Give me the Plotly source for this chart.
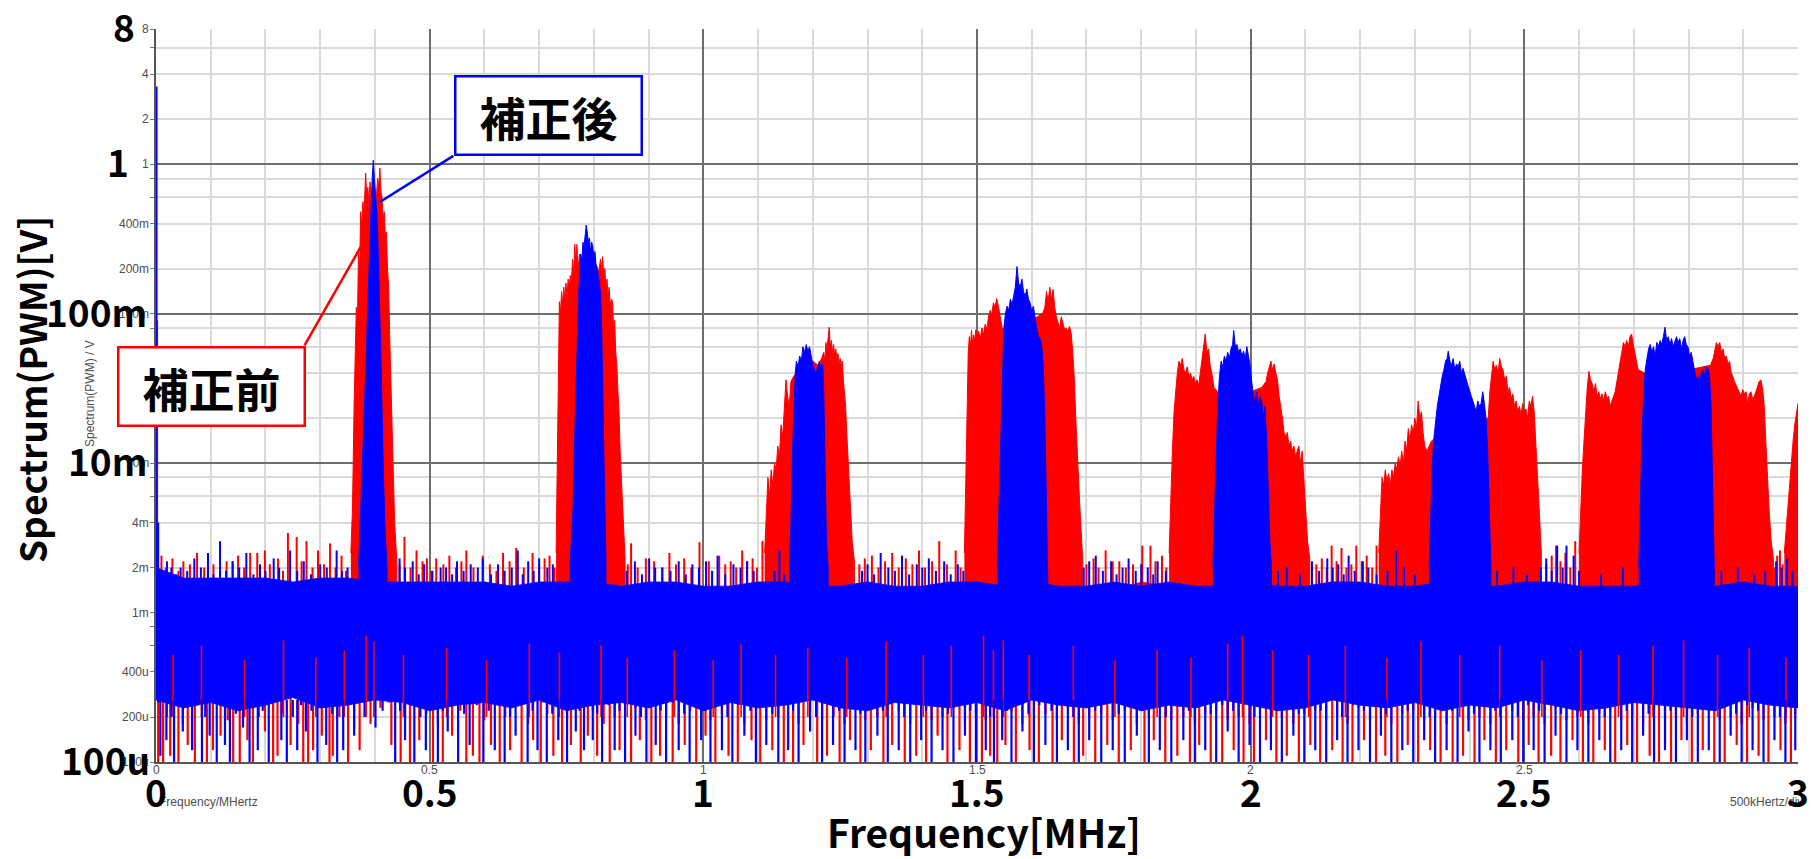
import math
import plotly.graph_objects as go

# ---------------------------------------------------------------- data
# Noise floor, sampled every 50 kHz (frequency in MHz)
FLOOR_F = [0.00, 0.05, 0.10, 0.15, 0.20, 0.25, 0.30, 0.35, 0.40, 0.45,
           0.50, 0.55, 0.60, 0.65, 0.70, 0.75, 0.80, 0.85, 0.90, 0.95,
           1.00, 1.05, 1.10, 1.15, 1.20, 1.25, 1.30, 1.35, 1.40, 1.45,
           1.50, 1.55, 1.60, 1.65, 1.70, 1.75, 1.80, 1.85, 1.90, 1.95,
           2.00, 2.05, 2.10, 2.15, 2.20, 2.25, 2.30, 2.35, 2.40, 2.45,
           2.50, 2.55, 2.60, 2.65, 2.70, 2.75, 2.80, 2.85, 2.90, 2.95, 3.00]

# upper edge of the dense floor band (mV)
RED_FLOOR_TOP = [1.8, 1.6, 1.5, 1.6, 1.7, 1.5, 1.6, 1.7, 1.5, 1.5,
                 1.6, 1.5, 1.6, 1.4, 1.5, 1.6, 1.5, 1.4, 1.6, 1.5,
                 1.4, 1.5, 1.6, 1.5, 1.4, 1.5, 1.6, 1.4, 1.5, 1.6,
                 1.5, 1.4, 1.5, 1.6, 1.5, 1.4, 1.6, 1.5, 1.4, 1.5,
                 1.6, 1.4, 1.5, 1.6, 1.5, 1.4, 1.5, 1.6, 1.4, 1.5,
                 1.6, 1.5, 1.4, 1.6, 1.5, 1.4, 1.5, 1.6, 1.5, 1.4, 1.5]
BLUE_FLOOR_TOP = [2.0, 1.7, 1.7, 1.7, 1.7, 1.6, 1.7, 1.7, 1.6, 1.6,
                  1.6, 1.6, 1.6, 1.5, 1.6, 1.6, 1.6, 1.5, 1.6, 1.6,
                  1.5, 1.5, 1.6, 1.6, 1.5, 1.5, 1.6, 1.5, 1.5, 1.6,
                  1.6, 1.5, 1.6, 1.5, 1.5, 1.6, 1.5, 1.6, 1.5, 1.5,
                  1.6, 1.5, 1.5, 1.6, 1.6, 1.5, 1.5, 1.6, 1.5, 1.5,
                  1.6, 1.6, 1.5, 1.5, 1.5, 1.6, 1.5, 1.5, 1.6, 1.5, 1.5]

# lower edge of the dense floor band (uV)
RED_FLOOR_BOT = [280, 300, 270, 290, 300, 270, 290, 280, 300, 290,
                 270, 280, 300, 290, 270, 290, 280, 270, 300, 290,
                 280, 270, 290, 300, 280, 290, 270, 280, 300, 290,
                 270, 290, 280, 300, 290, 270, 280, 300, 290, 280,
                 270, 300, 290, 280, 270, 290, 280, 300, 270, 290,
                 280, 300, 290, 270, 290, 280, 300, 290, 270, 280, 290]
BLUE_FLOOR_BOT = [260, 230, 250, 220, 240, 270, 230, 240, 260, 250,
                  220, 240, 250, 230, 260, 220, 240, 250, 230, 260,
                  220, 250, 230, 240, 260, 230, 220, 250, 240, 230,
                  250, 220, 260, 240, 230, 250, 220, 240, 230, 260,
                  240, 220, 230, 260, 240, 230, 250, 220, 240, 230,
                  260, 240, 220, 230, 250, 240, 230, 220, 260, 240, 230]

# Harmonic sidebands, (frequency MHz, peak mV) -- before correction (red)
RED_H1 = [(0.356, 2.5), (0.359, 5), (0.362, 25), (0.364, 60), (0.366, 110), (0.368, 90),
          (0.370, 260), (0.372, 200), (0.374, 480), (0.376, 380), (0.378, 560), (0.380, 450),
          (0.383, 870), (0.385, 600), (0.387, 700), (0.389, 550), (0.391, 760), (0.393, 600),
          (0.395, 620), (0.398, 500), (0.400, 650), (0.402, 560), (0.405, 800), (0.407, 700),
          (0.409, 940), (0.411, 650), (0.413, 600), (0.415, 420), (0.417, 480), (0.419, 330),
          (0.421, 350), (0.423, 200), (0.425, 150), (0.427, 70), (0.429, 40), (0.431, 18),
          (0.433, 10), (0.436, 4), (0.440, 2.2)]
RED_H2 = [(0.731, 2.5), (0.733, 8), (0.735, 40), (0.737, 120), (0.739, 100), (0.741, 140),
          (0.743, 115), (0.745, 150), (0.747, 125), (0.749, 160), (0.751, 130), (0.753, 170),
          (0.755, 150), (0.757, 180), (0.759, 160), (0.761, 230), (0.763, 180), (0.765, 290),
          (0.767, 220), (0.769, 290), (0.771, 200), (0.774, 250), (0.778, 220), (0.782, 240),
          (0.786, 200), (0.790, 220), (0.795, 200), (0.800, 220), (0.805, 210), (0.809, 190),
          (0.812, 230), (0.814, 200), (0.816, 240), (0.818, 180), (0.820, 200), (0.822, 150),
          (0.824, 170), (0.826, 130), (0.828, 150), (0.830, 110), (0.832, 125), (0.834, 120),
          (0.836, 80), (0.838, 90), (0.840, 55), (0.842, 45), (0.844, 30), (0.846, 22),
          (0.848, 12), (0.850, 8), (0.853, 4), (0.857, 2.3)]
RED_H3 = [(1.112, 2.5), (1.115, 5), (1.118, 8), (1.121, 6), (1.124, 9), (1.127, 7),
          (1.130, 10), (1.133, 9), (1.136, 13), (1.139, 11), (1.142, 18), (1.145, 15),
          (1.148, 25), (1.151, 36), (1.154, 28), (1.157, 24), (1.160, 35), (1.165, 38),
          (1.170, 40), (1.180, 45), (1.190, 50), (1.200, 48), (1.210, 45), (1.216, 50),
          (1.220, 55), (1.222, 48), (1.224, 64), (1.226, 58), (1.228, 70), (1.230, 81),
          (1.232, 60), (1.234, 66), (1.236, 55), (1.238, 62), (1.240, 52), (1.242, 58),
          (1.244, 50), (1.246, 54), (1.248, 46), (1.250, 50), (1.252, 44), (1.254, 48),
          (1.256, 35), (1.258, 30), (1.260, 24), (1.262, 16), (1.264, 11), (1.266, 8),
          (1.269, 5), (1.272, 3), (1.276, 2.2)]
RED_H4 = [(1.477, 2.5), (1.480, 8), (1.482, 25), (1.484, 55), (1.486, 70), (1.488, 60),
          (1.490, 77), (1.492, 62), (1.494, 72), (1.496, 65), (1.498, 78), (1.500, 70),
          (1.503, 76), (1.506, 68), (1.509, 80), (1.512, 72), (1.515, 85), (1.518, 78),
          (1.521, 95), (1.524, 105), (1.527, 98), (1.530, 118), (1.533, 110), (1.536, 126),
          (1.539, 112), (1.542, 95), (1.546, 80), (1.550, 75), (1.560, 80), (1.580, 85),
          (1.600, 90), (1.620, 100), (1.624, 110), (1.627, 140), (1.630, 120), (1.633, 150),
          (1.636, 125), (1.639, 145), (1.642, 110), (1.645, 95), (1.648, 88), (1.651, 80),
          (1.654, 95), (1.657, 85), (1.660, 78), (1.663, 80), (1.666, 76), (1.669, 82),
          (1.672, 74), (1.675, 55), (1.678, 35), (1.681, 18), (1.684, 10), (1.688, 5),
          (1.693, 2.3)]
RED_H5 = [(1.851, 2.5), (1.854, 6), (1.857, 12), (1.860, 22), (1.863, 30), (1.866, 40),
          (1.869, 48), (1.872, 45), (1.875, 50), (1.878, 42), (1.881, 40), (1.884, 44),
          (1.887, 38), (1.890, 40), (1.893, 36), (1.896, 38), (1.899, 34), (1.902, 36),
          (1.905, 33), (1.908, 40), (1.911, 48), (1.914, 60), (1.917, 73), (1.920, 55),
          (1.923, 58), (1.926, 45), (1.929, 40), (1.933, 32), (1.940, 30), (1.960, 30),
          (1.980, 30), (2.000, 30), (2.020, 32), (2.028, 35), (2.031, 40), (2.034, 44),
          (2.037, 48), (2.040, 42), (2.043, 46), (2.046, 40), (2.049, 36), (2.052, 28),
          (2.055, 24), (2.058, 20), (2.061, 16), (2.064, 15), (2.067, 16), (2.070, 13),
          (2.073, 14), (2.076, 12), (2.079, 13), (2.082, 11), (2.085, 12), (2.088, 13),
          (2.091, 10), (2.094, 12), (2.097, 8), (2.100, 5), (2.104, 3), (2.108, 2.3)]
RED_H6 = [(2.234, 2.5), (2.237, 5), (2.240, 8), (2.243, 7), (2.246, 9), (2.249, 7.5),
          (2.252, 8.5), (2.255, 7), (2.258, 9), (2.261, 8), (2.264, 10), (2.267, 9),
          (2.270, 11), (2.273, 9.5), (2.276, 12), (2.279, 10), (2.282, 14), (2.285, 12),
          (2.288, 17), (2.291, 14), (2.294, 18), (2.297, 16), (2.300, 20), (2.303, 17),
          (2.306, 26), (2.309, 20), (2.312, 22), (2.315, 16), (2.318, 13), (2.322, 12),
          (2.330, 14), (2.350, 16), (2.380, 18), (2.410, 18), (2.434, 20), (2.437, 30),
          (2.440, 40), (2.443, 48), (2.446, 42), (2.449, 45), (2.452, 40), (2.455, 50),
          (2.458, 44), (2.461, 42), (2.464, 36), (2.467, 38), (2.470, 30), (2.473, 32),
          (2.476, 27), (2.479, 29), (2.482, 24), (2.485, 26), (2.488, 22), (2.491, 24),
          (2.494, 21), (2.497, 25), (2.500, 22), (2.503, 23), (2.506, 20), (2.509, 26),
          (2.512, 24), (2.515, 28), (2.518, 22), (2.521, 14), (2.524, 8), (2.527, 5),
          (2.531, 2.5)]
RED_H7 = [(2.600, 2.5), (2.603, 5), (2.606, 9), (2.609, 14), (2.612, 22), (2.615, 32),
          (2.618, 41), (2.621, 36), (2.624, 34), (2.627, 30), (2.630, 34), (2.633, 28),
          (2.636, 30), (2.639, 27), (2.642, 29), (2.645, 26), (2.648, 30), (2.651, 27),
          (2.654, 28), (2.657, 24), (2.660, 26), (2.663, 28), (2.666, 30), (2.669, 35),
          (2.672, 40), (2.675, 48), (2.678, 55), (2.681, 64), (2.684, 60), (2.687, 66),
          (2.690, 60), (2.693, 70), (2.696, 73), (2.699, 62), (2.702, 55), (2.705, 48),
          (2.708, 42), (2.720, 40), (2.760, 42), (2.800, 42), (2.840, 45), (2.845, 50),
          (2.848, 58), (2.851, 64), (2.854, 60), (2.857, 64), (2.860, 55), (2.863, 58),
          (2.866, 50), (2.869, 52), (2.872, 46), (2.875, 48), (2.878, 40), (2.881, 38),
          (2.884, 35), (2.887, 33), (2.890, 32), (2.893, 30), (2.896, 28), (2.899, 31),
          (2.902, 29), (2.905, 30), (2.908, 25), (2.911, 29), (2.914, 30), (2.917, 27),
          (2.920, 28), (2.923, 30), (2.926, 32), (2.929, 35), (2.932, 36), (2.935, 32),
          (2.938, 25), (2.941, 14), (2.944, 10), (2.947, 5), (2.951, 3), (2.955, 2.3)]
RED_H8 = [(2.975, 2.5), (2.979, 4), (2.983, 6), (2.987, 9), (2.991, 14), (2.994, 18),
          (2.997, 22), (3.000, 25)]

# Harmonic sidebands after correction (blue)
BLUE_H1 = [(0.370, 2), (0.373, 4), (0.376, 6), (0.378, 10), (0.381, 25), (0.384, 50),
           (0.386, 90), (0.388, 160), (0.390, 300), (0.392, 450), (0.394, 650), (0.395, 800),
           (0.397, 1060), (0.399, 800), (0.401, 650), (0.403, 500), (0.405, 350), (0.407, 200),
           (0.409, 100), (0.412, 35), (0.415, 10), (0.418, 4), (0.422, 2)]
BLUE_H2 = [(0.756, 2), (0.759, 3), (0.762, 5), (0.765, 15), (0.768, 45), (0.770, 80),
           (0.772, 130), (0.774, 180), (0.776, 250), (0.778, 220), (0.780, 300), (0.782, 280),
           (0.784, 340), (0.786, 390), (0.788, 350), (0.790, 300), (0.792, 320), (0.794, 260),
           (0.796, 300), (0.798, 280), (0.800, 240), (0.802, 260), (0.804, 210), (0.806, 200),
           (0.808, 180), (0.810, 160), (0.812, 140), (0.814, 90), (0.816, 25), (0.819, 8),
           (0.822, 2.3)]
BLUE_H3 = [(1.157, 2), (1.160, 4), (1.163, 12), (1.166, 28), (1.168, 40), (1.170, 48),
           (1.173, 44), (1.176, 52), (1.179, 48), (1.182, 60), (1.185, 55), (1.188, 62),
           (1.191, 56), (1.194, 60), (1.197, 50), (1.200, 45), (1.203, 42), (1.206, 40),
           (1.209, 44), (1.212, 48), (1.215, 42), (1.218, 46), (1.220, 30), (1.222, 10),
           (1.225, 3), (1.228, 2)]
BLUE_H4 = [(1.537, 2), (1.540, 5), (1.543, 15), (1.546, 40), (1.549, 80), (1.552, 100),
           (1.555, 112), (1.558, 105), (1.561, 125), (1.564, 115), (1.567, 135), (1.570, 150),
           (1.573, 206), (1.576, 160), (1.579, 150), (1.582, 170), (1.585, 140), (1.588, 130),
           (1.591, 146), (1.594, 125), (1.597, 118), (1.600, 104), (1.603, 112), (1.606, 92),
           (1.609, 80), (1.612, 70), (1.615, 68), (1.618, 62), (1.621, 45), (1.624, 20),
           (1.627, 6), (1.630, 2)]
BLUE_H5 = [(1.931, 2), (1.934, 5), (1.937, 12), (1.940, 25), (1.943, 38), (1.946, 48),
           (1.949, 44), (1.952, 52), (1.955, 48), (1.958, 55), (1.961, 50), (1.964, 58),
           (1.967, 62), (1.969, 77), (1.972, 60), (1.975, 62), (1.978, 55), (1.981, 58),
           (1.984, 52), (1.987, 56), (1.990, 50), (1.993, 60), (1.996, 52), (1.999, 45),
           (2.002, 35), (2.005, 28), (2.008, 26), (2.011, 30), (2.014, 24), (2.017, 28),
           (2.020, 26), (2.023, 20), (2.026, 24), (2.029, 15), (2.032, 7), (2.035, 3),
           (2.038, 2)]
BLUE_H6 = [(2.326, 2), (2.329, 5), (2.332, 10), (2.335, 15), (2.338, 20), (2.341, 24),
           (2.344, 28), (2.347, 34), (2.350, 38), (2.353, 42), (2.356, 48), (2.359, 50),
           (2.361, 56), (2.364, 48), (2.367, 45), (2.370, 50), (2.373, 42), (2.376, 46),
           (2.379, 44), (2.382, 48), (2.385, 40), (2.388, 43), (2.391, 40), (2.394, 36),
           (2.397, 33), (2.400, 30), (2.403, 28), (2.406, 26), (2.409, 24), (2.412, 22),
           (2.415, 26), (2.418, 24), (2.421, 25), (2.424, 30), (2.427, 25), (2.430, 20),
           (2.433, 12), (2.436, 5), (2.439, 2)]
BLUE_H7 = [(2.709, 2), (2.712, 6), (2.715, 15), (2.718, 28), (2.721, 42), (2.724, 50),
           (2.727, 58), (2.730, 62), (2.733, 55), (2.736, 60), (2.739, 52), (2.742, 64),
           (2.745, 60), (2.748, 66), (2.751, 62), (2.754, 70), (2.757, 81), (2.760, 66),
           (2.763, 70), (2.766, 62), (2.769, 68), (2.772, 60), (2.775, 66), (2.778, 70),
           (2.781, 64), (2.784, 68), (2.787, 58), (2.790, 66), (2.793, 70), (2.796, 62),
           (2.799, 60), (2.802, 52), (2.805, 55), (2.808, 48), (2.811, 40), (2.814, 36),
           (2.817, 38), (2.820, 35), (2.823, 40), (2.826, 42), (2.829, 38), (2.832, 44),
           (2.835, 43), (2.838, 40), (2.841, 25), (2.844, 8), (2.847, 2)]

# Isolated spikes above the floor band, (frequency MHz, mV)
RED_UP = [(0.002, 90), (0.010, 2.4), (0.030, 2.3), (0.050, 2.2), (0.075, 2.5), (0.105, 2.1),
          (0.129, 2.2), (0.150, 2.4), (0.172, 2.5), (0.185, 2.5), (0.199, 2.6), (0.223, 2.3),
          (0.241, 3.4), (0.257, 3.2), (0.275, 3.0), (0.296, 2.6), (0.318, 2.9), (0.339, 2.4),
          (0.454, 3.2), (0.476, 2.6), (0.495, 2.3), (0.512, 2.3), (0.536, 2.4), (0.567, 2.6),
          (0.597, 2.4), (0.634, 2.5), (0.658, 2.7), (0.688, 2.5), (0.719, 2.4), (0.868, 2.9),
          (0.895, 2.3), (0.938, 2.5), (0.965, 2.3), (0.993, 2.95), (1.029, 2.4), (1.050, 2.2),
          (1.071, 2.6), (1.090, 2.3), (1.108, 3.0), (1.295, 2.3), (1.308, 2.4), (1.345, 2.5),
          (1.370, 2.3), (1.394, 2.6), (1.431, 3.0), (1.461, 2.6), (1.713, 2.3), (1.735, 2.6),
          (1.760, 2.2), (1.802, 2.8), (1.817, 2.8), (1.838, 2.4), (2.130, 2.3), (2.148, 2.8),
          (2.166, 2.7), (2.193, 2.8), (2.212, 2.4), (2.230, 2.8), (2.550, 2.4), (2.558, 2.8),
          (2.575, 2.5), (2.593, 3.0), (2.962, 2.4), (2.967, 2.6),
          (0.018, 2.0), (0.041, 1.9), (0.062, 2.1), (0.088, 2.0), (0.117, 1.9), (0.140, 2.2),
          (0.161, 2.0), (0.208, 2.1), (0.232, 1.9), (0.266, 2.2), (0.286, 2.0), (0.307, 2.1),
          (0.328, 2.0), (0.347, 1.9), (0.445, 2.1), (0.465, 2.0), (0.487, 2.2), (0.503, 1.9),
          (0.525, 2.1), (0.548, 2.0), (0.558, 2.2), (0.580, 2.0), (0.610, 2.1), (0.622, 1.9),
          (0.646, 2.2), (0.672, 2.0), (0.700, 2.1), (0.710, 2.3), (0.728, 2.0), (0.862, 2.1),
          (0.880, 2.0), (0.910, 2.2), (0.925, 2.0), (0.950, 2.1), (0.978, 2.0), (1.010, 2.2),
          (1.040, 2.1), (1.060, 2.0), (1.080, 2.2), (1.098, 2.0), (1.285, 2.1), (1.320, 2.0),
          (1.332, 2.2), (1.357, 2.0), (1.382, 2.1), (1.405, 2.0), (1.418, 2.2), (1.445, 2.1),
          (1.470, 2.0), (1.700, 2.1), (1.722, 2.0), (1.748, 2.2), (1.772, 2.0), (1.785, 2.1),
          (1.826, 2.2), (1.846, 2.0), (2.120, 2.1), (2.139, 2.0), (2.157, 2.2), (2.175, 2.0),
          (2.184, 2.1), (2.203, 2.2), (2.222, 2.0), (2.540, 2.1), (2.566, 2.2), (2.584, 2.0),
          (2.958, 2.0), (2.972, 2.1)]
BLUE_UP = [(0.001, 3300), (0.004, 4.0), (0.020, 2.2), (0.045, 2.0), (0.070, 2.3), (0.095, 2.5),
           (0.117, 3.0), (0.140, 2.2), (0.165, 2.5), (0.190, 2.1), (0.215, 2.3), (0.245, 2.6),
           (0.270, 2.2), (0.300, 2.1), (0.330, 2.6), (0.350, 2.0), (0.445, 2.3), (0.469, 2.2),
           (0.490, 2.1), (0.520, 2.0), (0.550, 2.2), (0.575, 2.1), (0.597, 2.3), (0.625, 2.1),
           (0.661, 2.6), (0.680, 2.2), (0.700, 2.3), (0.725, 2.1), (0.875, 2.2), (0.901, 2.3),
           (0.925, 2.0), (0.955, 2.2), (0.980, 2.1), (1.005, 2.2), (1.026, 2.4), (1.055, 2.1),
           (1.080, 2.2), (1.139, 2.6), (1.300, 2.1), (1.324, 2.5), (1.363, 2.4), (1.390, 2.1),
           (1.412, 2.3), (1.440, 2.2), (1.465, 2.1), (1.705, 2.2), (1.717, 2.4), (1.745, 2.2),
           (1.777, 2.3), (1.800, 2.1), (1.830, 2.2), (2.112, 2.2), (2.140, 2.3), (2.160, 2.1),
           (2.179, 2.4), (2.205, 2.2), (2.266, 2.6), (2.540, 2.3), (2.560, 2.8), (2.577, 2.8),
           (2.590, 2.4), (2.960, 2.2), (2.980, 2.3),
           (0.012, 1.9), (0.028, 2.0), (0.037, 1.8), (0.057, 1.9), (0.082, 2.0), (0.105, 1.8),
           (0.128, 1.9), (0.152, 2.0), (0.178, 1.8), (0.200, 1.9), (0.225, 2.0), (0.258, 1.9),
           (0.283, 1.8), (0.312, 2.0), (0.340, 1.9), (0.455, 2.0), (0.480, 1.8), (0.505, 1.9),
           (0.530, 2.0), (0.541, 1.8), (0.562, 1.9), (0.588, 2.0), (0.612, 1.8), (0.637, 1.9),
           (0.650, 2.0), (0.670, 1.8), (0.690, 1.9), (0.715, 2.0), (0.860, 1.9), (0.888, 1.8),
           (0.912, 2.0), (0.940, 1.9), (0.968, 1.8), (0.992, 2.0), (1.016, 1.9), (1.040, 1.8),
           (1.068, 2.0), (1.092, 1.9), (1.130, 1.9), (1.148, 1.8), (1.290, 1.9), (1.312, 1.8),
           (1.338, 2.0), (1.350, 1.9), (1.376, 1.8), (1.400, 2.0), (1.425, 1.9), (1.452, 1.8),
           (1.475, 1.9), (1.695, 2.0), (1.730, 1.9), (1.755, 1.8), (1.766, 2.0), (1.790, 1.9),
           (1.812, 2.0), (1.822, 1.8), (1.845, 1.9), (2.050, 1.9), (2.066, 2.0), (2.090, 1.8),
           (2.125, 1.9), (2.150, 2.0), (2.170, 1.8), (2.190, 1.9), (2.215, 2.0), (2.230, 1.8),
           (2.250, 1.9), (2.280, 2.0), (2.300, 1.8), (2.450, 1.9), (2.480, 2.0), (2.505, 1.8),
           (2.530, 2.0), (2.550, 1.9), (2.570, 2.0), (2.600, 1.9), (2.640, 1.8), (2.680, 2.0),
           (2.860, 1.9), (2.890, 2.0), (2.920, 1.8), (2.940, 1.9), (2.970, 2.0), (2.990, 1.9)]

# Deep red dips showing through the lower part of the blue band, (frequency MHz, top uV)
RED_DIPS = [(0.031, 520), (0.083, 600), (0.162, 480), (0.233, 650), (0.292, 500), (0.344, 560),
            (0.384, 700), (0.398, 640), (0.452, 520), (0.531, 580), (0.604, 480), (0.682, 620),
            (0.737, 540), (0.813, 600), (0.861, 500), (0.947, 560), (1.018, 480), (1.069, 620),
            (1.132, 520), (1.191, 580), (1.262, 500), (1.334, 640), (1.402, 520), (1.453, 600),
            (1.512, 700), (1.530, 560), (1.548, 650), (1.595, 520), (1.676, 600), (1.752, 480),
            (1.829, 560), (1.891, 500), (1.958, 620), (1.985, 700), (2.040, 560), (2.106, 520),
            (2.173, 600), (2.249, 500), (2.311, 640), (2.382, 520), (2.455, 600), (2.532, 480),
            (2.603, 560), (2.672, 520), (2.735, 600), (2.791, 650), (2.853, 520), (2.911, 580),
            (2.978, 500)]

# Spikes reaching down below the floor band, (frequency MHz, uV)
RED_DOWN = [(0.004, 100), (0.013, 100), (0.026, 110), (0.041, 100), (0.058, 130), (0.071, 100),
            (0.093, 100), (0.104, 120), (0.118, 150), (0.141, 100), (0.153, 100), (0.167, 140),
            (0.177, 100), (0.199, 160), (0.214, 100), (0.222, 110), (0.246, 130), (0.269, 100),
            (0.278, 100), (0.287, 120), (0.303, 150), (0.317, 100), (0.323, 110), (0.351, 100),
            (0.372, 120), (0.392, 180), (0.430, 130), (0.447, 100), (0.464, 100), (0.481, 140),
            (0.506, 100), (0.524, 100), (0.541, 150), (0.567, 100), (0.579, 110), (0.591, 100),
            (0.612, 130), (0.628, 100), (0.647, 120), (0.668, 100), (0.689, 140), (0.703, 100),
            (0.726, 110), (0.742, 100), (0.758, 130), (0.776, 100), (0.789, 150), (0.806, 110),
            (0.829, 100), (0.847, 120), (0.868, 100), (0.884, 140), (0.905, 100), (0.921, 110),
            (0.944, 100), (0.966, 130), (0.987, 100), (1.004, 150), (1.022, 100), (1.046, 110),
            (1.063, 100), (1.088, 140), (1.104, 100), (1.126, 120), (1.147, 100), (1.164, 100),
            (1.183, 130), (1.208, 100), (1.226, 110), (1.249, 100), (1.268, 140), (1.287, 100),
            (1.306, 120), (1.329, 100), (1.345, 130), (1.368, 100), (1.389, 110), (1.407, 100),
            (1.428, 150), (1.446, 100), (1.468, 120), (1.487, 100), (1.509, 100), (1.524, 110),
            (1.537, 100), (1.552, 130), (1.571, 100), (1.596, 120), (1.613, 100), (1.638, 100),
            (1.655, 140), (1.677, 100), (1.694, 110), (1.716, 100), (1.738, 130), (1.759, 100),
            (1.781, 120), (1.806, 100), (1.823, 140), (1.844, 100), (1.866, 110), (1.889, 100),
            (1.906, 130), (1.927, 100), (1.948, 100), (1.969, 120), (1.987, 100), (2.006, 100),
            (2.028, 140), (2.047, 100), (2.066, 110), (2.088, 100), (2.109, 130), (2.127, 100),
            (2.149, 120), (2.168, 100), (2.186, 100), (2.207, 140), (2.229, 100), (2.246, 110),
            (2.268, 100), (2.287, 130), (2.306, 100), (2.328, 120), (2.347, 100), (2.369, 100),
            (2.388, 110), (2.409, 100), (2.427, 140), (2.448, 100), (2.467, 120), (2.489, 100),
            (2.508, 130), (2.526, 100), (2.549, 110), (2.566, 100), (2.588, 140), (2.607, 100),
            (2.626, 100), (2.647, 120), (2.666, 100), (2.688, 130), (2.706, 100), (2.729, 110),
            (2.746, 100), (2.768, 100), (2.787, 140), (2.806, 100), (2.826, 120), (2.847, 100),
            (2.866, 100), (2.888, 130), (2.907, 100), (2.928, 110), (2.946, 100), (2.968, 120),
            (2.987, 100),
            (0.020, 200), (0.049, 180), (0.084, 220), (0.131, 190), (0.160, 240), (0.188, 200),
            (0.230, 210), (0.260, 180), (0.295, 230), (0.335, 200), (0.362, 170), (0.410, 230),
            (0.455, 190), (0.494, 210), (0.515, 180), (0.556, 220), (0.600, 190), (0.638, 200),
            (0.660, 240), (0.680, 180), (0.715, 210), (0.751, 190), (0.798, 220), (0.818, 180),
            (0.838, 200), (0.876, 230), (0.895, 190), (0.932, 200), (0.955, 180), (0.976, 220),
            (1.013, 190), (1.034, 210), (1.075, 180), (1.096, 230), (1.115, 190), (1.137, 200),
            (1.174, 180), (1.195, 220), (1.217, 190), (1.238, 200), (1.258, 180), (1.278, 230),
            (1.296, 190), (1.318, 200), (1.357, 220), (1.378, 180), (1.398, 210), (1.417, 190),
            (1.437, 200), (1.457, 230), (1.478, 180), (1.498, 210), (1.516, 190), (1.546, 200),
            (1.563, 220), (1.583, 180), (1.625, 210), (1.646, 190), (1.666, 230), (1.686, 180),
            (1.705, 200), (1.727, 210), (1.748, 190), (1.770, 220), (1.792, 180), (1.814, 200),
            (1.834, 230), (1.855, 190), (1.877, 200), (1.898, 180), (1.917, 210), (1.937, 220),
            (1.958, 190), (1.978, 200), (1.998, 180), (2.017, 230), (2.037, 190), (2.057, 200),
            (2.078, 180), (2.098, 210), (2.118, 220), (2.138, 190), (2.158, 200), (2.177, 180),
            (2.197, 230), (2.218, 190), (2.238, 200), (2.257, 180), (2.277, 210), (2.297, 220),
            (2.317, 190), (2.337, 200), (2.358, 180), (2.378, 230), (2.398, 190), (2.418, 200),
            (2.438, 180), (2.457, 210), (2.478, 220), (2.498, 190), (2.517, 200), (2.537, 180),
            (2.557, 230), (2.577, 190), (2.597, 200), (2.617, 180), (2.637, 210), (2.657, 220),
            (2.677, 190), (2.697, 200), (2.717, 180), (2.737, 230), (2.757, 190), (2.777, 200),
            (2.797, 180), (2.817, 210), (2.837, 220), (2.857, 190), (2.877, 200), (2.897, 180),
            (2.917, 230), (2.937, 190), (2.957, 200), (2.977, 180), (2.995, 210)]
BLUE_DOWN = [(0.008, 110), (0.019, 140), (0.033, 100), (0.049, 160), (0.066, 120), (0.084, 100),
             (0.098, 150), (0.111, 100), (0.126, 130), (0.135, 100), (0.159, 170), (0.171, 100),
             (0.186, 120), (0.206, 100), (0.229, 140), (0.239, 100), (0.258, 120), (0.274, 160),
             (0.295, 100), (0.311, 130), (0.331, 100), (0.342, 120), (0.362, 150), (0.381, 200),
             (0.401, 170), (0.414, 220), (0.437, 100), (0.455, 140), (0.472, 100), (0.493, 120),
             (0.515, 100), (0.533, 160), (0.552, 100), (0.573, 130), (0.598, 100), (0.619, 120),
             (0.637, 100), (0.657, 150), (0.679, 100), (0.697, 120), (0.714, 100), (0.735, 140),
             (0.751, 100), (0.767, 160), (0.782, 120), (0.798, 140), (0.815, 100), (0.838, 120),
             (0.857, 100), (0.876, 150), (0.896, 100), (0.913, 130), (0.932, 100), (0.955, 120),
             (0.975, 100), (0.996, 140), (1.013, 100), (1.034, 120), (1.053, 100), (1.075, 150),
             (1.096, 100), (1.115, 130), (1.137, 100), (1.155, 120), (1.174, 100), (1.195, 160),
             (1.217, 100), (1.237, 130), (1.258, 100), (1.278, 120), (1.296, 100), (1.318, 150),
             (1.337, 100), (1.357, 120), (1.378, 100), (1.398, 140), (1.417, 100), (1.437, 120),
             (1.457, 100), (1.478, 150), (1.498, 100), (1.516, 120), (1.531, 100), (1.546, 140),
             (1.563, 100), (1.583, 160), (1.604, 100), (1.625, 130), (1.646, 100), (1.666, 120),
             (1.686, 100), (1.705, 140), (1.727, 100), (1.748, 120), (1.770, 100), (1.792, 150),
             (1.814, 100), (1.834, 120), (1.855, 100), (1.877, 140), (1.898, 100), (1.917, 120),
             (1.937, 100), (1.958, 160), (1.978, 100), (1.998, 130), (2.017, 100), (2.037, 120),
             (2.057, 100), (2.078, 150), (2.098, 100), (2.118, 120), (2.138, 100), (2.158, 140),
             (2.177, 100), (2.197, 120), (2.218, 100), (2.238, 150), (2.257, 100), (2.277, 120),
             (2.297, 100), (2.317, 140), (2.337, 100), (2.358, 120), (2.378, 100), (2.398, 160),
             (2.418, 100), (2.438, 120), (2.457, 100), (2.478, 140), (2.498, 100), (2.517, 120),
             (2.537, 100), (2.557, 150), (2.577, 100), (2.597, 120), (2.617, 100), (2.637, 140),
             (2.657, 100), (2.677, 120), (2.697, 100), (2.717, 150), (2.737, 100), (2.757, 120),
             (2.777, 100), (2.797, 140), (2.817, 100), (2.837, 120), (2.857, 100), (2.877, 150),
             (2.897, 100), (2.917, 120), (2.937, 100), (2.957, 140), (2.977, 100), (2.995, 120),
             (0.004, 250), (0.028, 200), (0.055, 230), (0.076, 260), (0.090, 200), (0.118, 240),
             (0.146, 210), (0.165, 250), (0.195, 220), (0.218, 260), (0.250, 200), (0.265, 240),
             (0.284, 220), (0.303, 250), (0.322, 210), (0.352, 240), (0.372, 260), (0.392, 280),
             (0.425, 250), (0.446, 220), (0.463, 260), (0.483, 200), (0.504, 240), (0.524, 220),
             (0.543, 250), (0.563, 210), (0.586, 240), (0.608, 220), (0.628, 260), (0.647, 200),
             (0.668, 240), (0.688, 220), (0.706, 250), (0.724, 210), (0.743, 240), (0.759, 260),
             (0.774, 220), (0.790, 250), (0.806, 210), (0.827, 240), (0.847, 220), (0.866, 260),
             (0.886, 200), (0.904, 240), (0.922, 220), (0.944, 250), (0.965, 210), (0.986, 240),
             (1.004, 220), (1.023, 260), (1.044, 200), (1.064, 240), (1.086, 220), (1.105, 250),
             (1.126, 210), (1.146, 240), (1.164, 220), (1.185, 260), (1.206, 200), (1.227, 240),
             (1.248, 220), (1.268, 250), (1.287, 210), (1.307, 240), (1.328, 220), (1.347, 260),
             (1.367, 200), (1.388, 240), (1.407, 220), (1.427, 250), (1.447, 210), (1.467, 240),
             (1.488, 220), (1.507, 260), (1.524, 200), (1.538, 240), (1.555, 220), (1.573, 250),
             (1.594, 210), (1.614, 240), (1.636, 220), (1.656, 260), (1.676, 200), (1.696, 240),
             (1.716, 220), (1.738, 250), (1.759, 210), (1.781, 240), (1.803, 220), (1.824, 260),
             (1.845, 200), (1.866, 240), (1.887, 220), (1.907, 250), (1.927, 210), (1.948, 240),
             (1.968, 220), (1.988, 260), (2.007, 200), (2.027, 240), (2.047, 220), (2.067, 250),
             (2.088, 210), (2.108, 240), (2.128, 220), (2.148, 260), (2.167, 200), (2.187, 240),
             (2.207, 220), (2.228, 250), (2.247, 210), (2.267, 240), (2.287, 220), (2.307, 260),
             (2.327, 200), (2.347, 240), (2.368, 220), (2.388, 250), (2.408, 210), (2.428, 240),
             (2.447, 220), (2.467, 260), (2.488, 200), (2.507, 240), (2.527, 220), (2.547, 250),
             (2.567, 210), (2.587, 240), (2.607, 220), (2.627, 260), (2.647, 200), (2.667, 240),
             (2.687, 220), (2.707, 250), (2.727, 210), (2.747, 240), (2.767, 220), (2.787, 260),
             (2.807, 200), (2.827, 240), (2.847, 220), (2.867, 250), (2.887, 210), (2.907, 240),
             (2.927, 220), (2.947, 260), (2.967, 200), (2.987, 240)]

# Axis labelling
X_MAJOR = [0, 0.5, 1, 1.5, 2, 2.5, 3]
X_BIG_TEXT = ["0", "0.5", "1", "1.5", "2", "2.5", "3"]
X_SMALL_TEXT = ["0", "0.5", "1", "1.5", "2", "2.5"]
Y_DECADES = [1e-4, 1e-3, 1e-2, 1e-1, 1]
Y_BIG = [(8, "8"), (1, "1"), (0.1, "100m"), (0.01, "10m"), (1e-4, "100u")]
Y_SMALL = [(8, "8"), (4, "4"), (2, "2"), (1, "1"), (0.4, "400m"), (0.2, "200m"),
           (0.1, "100m"), (0.04, "40m"), (0.02, "20m"), (0.01, "10m"), (4e-3, "4m"),
           (2e-3, "2m"), (1e-3, "1m"), (4e-4, "400u"), (2e-4, "200u"), (1e-4, "100u")]

RED = "#ff0000"
BLUE = "#0000ff"
JP_FONT = "Noto Sans CJK JP"
SMALL_FONT = "Liberation Sans"

# ---------------------------------------------------------------- geometry
W, H = 1815, 859
PL, PR, PT, PB = 156, 1798, 29, 762   # plot area in page pixels


def xp(px):
    return (px - PL) / (PR - PL)


def yp(py):
    return (PB - py) / (PB - PT)


# ---------------------------------------------------------------- traces
def band(top_mv, bot_uv, color):
    xs = FLOOR_F + FLOOR_F[::-1]
    ys = [v * 1e-3 for v in top_mv] + [v * 1e-6 for v in bot_uv[::-1]]
    return go.Scatter(x=xs, y=ys, mode="lines", fill="toself", fillcolor=color,
                      line=dict(color=color, width=0.8), hoverinfo="skip")


def harmonics(groups, color):
    xs, ys = [], []
    for g in groups:
        xs += [f for f, _ in g] + [g[-1][0], g[0][0], None]
        ys += [v * 1e-3 for _, v in g] + [1.2e-3, 1.2e-3, None]
    return go.Scatter(x=xs, y=ys, mode="lines", fill="toself", fillcolor=color,
                      line=dict(color=color, width=1), hoverinfo="skip")


def spikes(points, base, unit, color, width):
    xs, ys = [], []
    for f, v in points:
        xs += [f, f, None]
        ys += [base, v * unit, None]
    return go.Scatter(x=xs, y=ys, mode="lines", line=dict(color=color, width=width),
                      hoverinfo="skip")


def dips(points, bottom, color, width):
    xs, ys = [], []
    for f, v in points:
        xs += [f, f, None]
        ys += [v * 1e-6, bottom, None]
    return go.Scatter(x=xs, y=ys, mode="lines", line=dict(color=color, width=width),
                      hoverinfo="skip")


fig = go.Figure()
# "before" spectrum underneath
fig.add_trace(band(RED_FLOOR_TOP, RED_FLOOR_BOT, RED))
fig.add_trace(harmonics([RED_H1, RED_H2, RED_H3, RED_H4, RED_H5, RED_H6, RED_H7, RED_H8], RED))
fig.add_trace(spikes(RED_UP, 1.2e-3, 1e-3, RED, 2))
fig.add_trace(spikes(RED_DOWN, 3.0e-4, 1e-6, RED, 2.2))
# "after" spectrum on top
fig.add_trace(band(BLUE_FLOOR_TOP, BLUE_FLOOR_BOT, BLUE))
fig.add_trace(harmonics([BLUE_H1, BLUE_H2, BLUE_H3, BLUE_H4, BLUE_H5, BLUE_H6, BLUE_H7], BLUE))
fig.add_trace(spikes(BLUE_UP, 1.2e-3, 1e-3, BLUE, 2))
fig.add_trace(dips(RED_DIPS, 2.0e-4, RED, 1.6))
fig.add_trace(spikes(BLUE_DOWN, 2.6e-4, 1e-6, BLUE, 2.2))

# ---------------------------------------------------------------- annotations
ann = []
small = dict(family=SMALL_FONT, size=12, color="#4d4d4d")
big = dict(family=JP_FONT, size=37, color="black", weight="bold")

for v, t in Y_SMALL:
    ann.append(dict(xref="paper", x=xp(151), yref="y", y=math.log10(v), text=t,
                    showarrow=False, xanchor="right", yanchor="middle", font=small))
for v, t in zip(X_MAJOR, X_SMALL_TEXT):
    ann.append(dict(xref="x", x=v, yref="paper", y=yp(770), text=t, showarrow=False,
                    xanchor="center", yanchor="middle", font=small))
ann.append(dict(xref="paper", x=xp(157), yref="paper", y=yp(802), text="Frequency/MHertz",
                showarrow=False, xanchor="left", yanchor="middle", font=small))
ann.append(dict(xref="paper", x=xp(1728), yref="paper", y=yp(802), text="500kHertz/div",
                showarrow=False, xanchor="left", yanchor="middle", font=small))
ann.append(dict(xref="paper", x=xp(90), yref="paper", y=yp(394), text="Spectrum(PWM) / V",
                textangle=-90, showarrow=False, xanchor="center", yanchor="middle", font=small))

y_big_right = {"8": 137, "1": 131, "100m": 149, "10m": 149, "100u": 152}
for v, t in Y_BIG:
    ann.append(dict(xref="paper", x=xp(y_big_right[t]), yref="y", y=math.log10(v), text=t,
                    showarrow=False, xanchor="right", yanchor="middle", yshift=3, font=big))
for v, t in zip(X_MAJOR, X_BIG_TEXT):
    ann.append(dict(xref="x", x=v, yref="paper", y=yp(791), text=t, showarrow=False,
                    xanchor="center", yanchor="middle", font=big))

ann.append(dict(xref="paper", x=xp(984), yref="paper", y=yp(831), text="Frequency[MHz]",
                showarrow=False, xanchor="center", yanchor="middle",
                font=dict(family=JP_FONT, size=39, color="black", weight="bold")))
ann.append(dict(xref="paper", x=xp(31), yref="paper", y=yp(390), text="Spectrum(PWM)[V]",
                textangle=-90, showarrow=False, xanchor="center", yanchor="middle",
                font=dict(family=JP_FONT, size=37, color="black", weight="bold")))

# leader lines from the callouts to the peaks at 0.4 MHz
ann.append(dict(xref="x", x=0.409, yref="y", y=-0.254, ax=75, ay=-47, text="",
                showarrow=True, arrowhead=0, arrowwidth=2.5, arrowcolor=BLUE,
                standoff=0, startstandoff=0))
ann.append(dict(xref="x", x=0.374, yref="y", y=-0.555, ax=-57, ay=100, text="",
                showarrow=True, arrowhead=0, arrowwidth=2.5, arrowcolor=RED,
                standoff=0, startstandoff=0))

# callout boxes
box_font = dict(family=JP_FONT, size=46, color="black", weight="bold")
ann.append(dict(xref="paper", x=xp(548.5), yref="paper", y=yp(116), text="補正後",
                showarrow=False, xanchor="center", yanchor="middle", width=180, height=72,
                bgcolor="white", bordercolor=BLUE, borderwidth=2.5, borderpad=2, font=box_font))
ann.append(dict(xref="paper", x=xp(211), yref="paper", y=yp(386), text="補正前",
                showarrow=False, xanchor="center", yanchor="middle", width=180, height=72,
                bgcolor="white", bordercolor=RED, borderwidth=2.5, borderpad=2, font=box_font))

# ---------------------------------------------------------------- layout
y_minor = [m * d for d in [1e-4, 1e-3, 1e-2, 1e-1, 1] for m in (2, 4, 6, 8)]

fig.update_layout(
    width=W, height=H, autosize=False,
    margin=dict(l=PL, r=W - PR, t=PT, b=H - PB),
    paper_bgcolor="white", plot_bgcolor="white",
    showlegend=False,
    annotations=ann,
    xaxis=dict(range=[0, 3], tickmode="array", tickvals=X_MAJOR, showticklabels=False,
               showgrid=True, gridcolor="#6e6e6e", gridwidth=1.5, zeroline=False,
               showline=True, linecolor="#555555", linewidth=2, ticks="",
               minor=dict(dtick=0.1, showgrid=True, gridcolor="#d9d9d9", gridwidth=1.5)),
    yaxis=dict(type="log", range=[-4, math.log10(8)], tickmode="array", tickvals=Y_DECADES,
               showticklabels=False, showgrid=True, gridcolor="#6e6e6e", gridwidth=1.5,
               zeroline=False, showline=True, linecolor="#555555", linewidth=2,
               ticks="outside", ticklen=4, tickcolor="#777777",
               minor=dict(tickmode="array", tickvals=y_minor, showgrid=True,
                          gridcolor="#d9d9d9", gridwidth=1.5, ticks="outside",
                          ticklen=4, tickcolor="#777777")),
)

fig.write_html("out.html")
